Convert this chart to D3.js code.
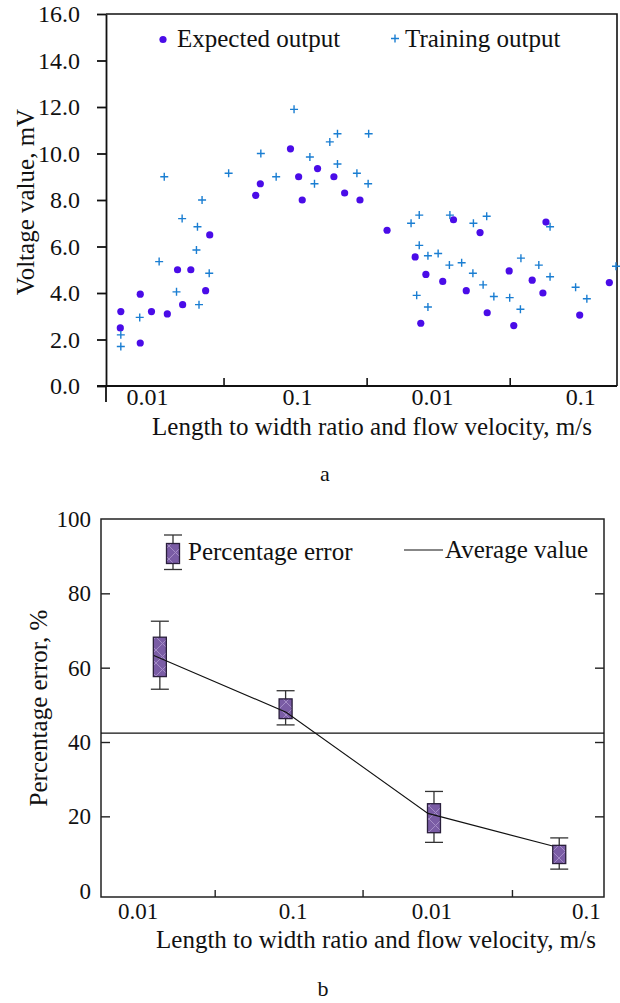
<!DOCTYPE html>
<meta http-equiv="Content-type" content="text/html; charset=UTF-8"/>
<style>
body { margin: 0; background: #fff; }
text { font-family: 'Liberation Serif', 'Times New Roman', serif; fill: #111; }
</style>
<svg width="620" height="1003"></svg>
<script src="https://d3js.org/d3.v7.min.js"></script>
<script>
// ---- chart a: expected vs training voltage ----
// x is the position along the split log axis (0..10 across the frame)
var expectedX = [0.29, 0.28, 0.67, 0.67, 0.89, 1.20, 1.40, 1.50, 1.66, 1.95, 2.03,
                 2.93, 3.02, 3.61, 3.77, 3.84, 4.14, 4.46, 4.67, 4.97,
                 5.50, 6.80, 7.32, 8.61, 6.05, 6.26, 6.59, 7.05, 7.89, 8.34, 8.55,
                 6.16, 7.46, 7.98, 9.27, 9.85];
var expectedY = [3.2, 2.5, 3.95, 1.85, 3.2, 3.1, 5.0, 3.5, 5.0, 4.1, 6.5,
                 8.2, 8.7, 10.2, 9.0, 8.0, 9.35, 9.0, 8.3, 8.0,
                 6.7, 7.15, 6.6, 7.05, 5.55, 4.8, 4.5, 4.1, 4.95, 4.55, 4.0,
                 2.7, 3.15, 2.6, 3.05, 4.45];
var trainingX = [0.29, 0.29, 0.66, 1.04, 1.38, 1.49, 1.77, 1.79, 1.82, 2.02,
                 1.14, 1.88, 2.40, 3.03, 3.33, 3.68, 3.99, 4.08, 4.38, 4.53, 4.53, 4.91, 5.14, 5.13,
                 5.97, 6.13, 6.73, 7.19, 7.45, 8.69, 6.13, 6.30, 6.50, 6.72, 6.96, 7.18,
                 7.38, 7.59, 7.90, 8.11, 8.12, 8.47, 8.69, 9.19, 9.41, 9.98, 6.08, 6.30];
var trainingY = [2.2, 1.7, 2.95, 5.35, 4.05, 7.2, 5.85, 6.85, 3.5, 4.85,
                 9.0, 8.0, 9.15, 10.0, 9.0, 11.9, 9.85, 8.7, 10.5, 10.85, 9.55, 9.15, 10.85, 8.7,
                 7.0, 7.35, 7.35, 7.0, 7.3, 6.85, 6.05, 5.6, 5.7, 5.2, 5.3, 4.85,
                 4.35, 3.85, 3.8, 3.3, 5.5, 5.2, 4.7, 4.25, 3.75, 5.15, 3.9, 3.4];
var voltTicks = [0, 2, 4, 6, 8, 10, 12, 14, 16];
var xTickLabels = ["0.01", "0.1", "0.01", "0.1"];
var topLabelPos = [0.80, 3.74, 6.38, 9.28];
var topMinorTicks = [2.31, 5.11, 7.91];

// ---- chart b: percentage error ----
var boxX = [1.17, 3.67, 6.62, 9.11];
var boxMin = [54.2, 44.6, 13.0, 5.8];
var boxQ1 = [57.6, 46.3, 15.6, 7.3];
var boxQ3 = [68.2, 51.6, 23.4, 12.2];
var boxMax = [72.5, 53.8, 26.7, 14.2];
var meanX = [1.05, 3.68, 6.50, 8.98];
var meanY = [63.3, 48.0, 20.8, 12.0];
var averageValue = 42.4;
var errTicks = [0, 20, 40, 60, 80, 100];
var botLabelPos = [0.73, 3.81, 6.57, 9.64];
var botMinorTicks = [2.27, 5.21, 8.18];

var svg = d3.select("svg");
var dotColor = "#4a0ce8", crossColor = "#1a7ed2";

// ================= chart a =================
var x1 = d3.scaleLinear().domain([0, 10]).range([106, 617]);
var y1 = d3.scaleLinear().domain([0, 16]).range([386, 14]);

var a = svg.append("g");

// frame: top and right
a.append("path")
    .attr("d", "M" + x1(0) + "," + y1(16) + "H" + x1(10) + "V" + y1(0))
    .attr("fill", "none").attr("stroke", "#111").attr("stroke-width", 1.6);

var ya = a.append("g")
    .attr("transform", "translate(" + x1(0) + ",0)")
    .call(d3.axisLeft(y1).tickValues(voltTicks).tickFormat(d3.format(".1f"))
      .tickSize(9).tickSizeOuter(0).tickPadding(17));
ya.selectAll("text").style("font-size", "24px");
ya.selectAll("line,path").attr("stroke", "#111").attr("stroke-width", 1.8);
// left axis runs a little below the baseline
a.append("line").attr("x1", x1(0)).attr("x2", x1(0)).attr("y1", y1(0)).attr("y2", y1(0) + 16)
    .attr("stroke", "#111").attr("stroke-width", 1.8);

var xa = a.append("g")
    .attr("transform", "translate(0," + y1(0) + ")")
    .call(d3.axisBottom(x1).tickValues(topLabelPos).tickFormat(function(d, i) { return xTickLabels[i]; })
      .tickSize(0).tickSizeOuter(0).tickPadding(2));
xa.selectAll("text").style("font-size", "24px");
xa.select(".domain").remove();
a.append("line").attr("x1", x1(0) - 9).attr("x2", x1(10)).attr("y1", y1(0)).attr("y2", y1(0))
    .attr("stroke", "#111").attr("stroke-width", 1.8);
a.selectAll(".minor").data(topMinorTicks).enter().append("line")
    .attr("x1", function(d) { return x1(d); }).attr("x2", function(d) { return x1(d); })
    .attr("y1", y1(0)).attr("y2", y1(0) - 8)
    .attr("stroke", "#111").attr("stroke-width", 1.6);

a.selectAll(".dot").data(expectedX).enter().append("circle")
    .attr("cx", function(d) { return x1(d); })
    .attr("cy", function(d, i) { return y1(expectedY[i]); })
    .attr("r", 3.6).attr("fill", dotColor);

function plus(g, cx, cy) {
  g.append("path")
    .attr("d", "M" + (cx - 4) + "," + cy + "H" + (cx + 4) + "M" + cx + "," + (cy - 4) + "V" + (cy + 4))
    .attr("stroke", crossColor).attr("stroke-width", 1.4).attr("fill", "none");
}
trainingX.forEach(function(d, i) { plus(a, x1(d), y1(trainingY[i])); });

// legend
a.append("circle").attr("cx", 163).attr("cy", 39.5).attr("r", 3.6).attr("fill", dotColor);
a.append("text").attr("x", 177).attr("y", 47).style("font-size", "25px").text("Expected output");
plus(a, 395, 38.5);
a.append("text").attr("x", 405).attr("y", 47).style("font-size", "25px").text("Training output");

a.append("text").attr("transform", "translate(34,202) rotate(-90)")
    .attr("text-anchor", "middle").style("font-size", "25px").text("Voltage value, mV");
a.append("text").attr("x", 372).attr("y", 435).attr("text-anchor", "middle")
    .style("font-size", "25px").text("Length to width ratio and flow velocity, m/s");
a.append("text").attr("x", 325).attr("y", 481).attr("text-anchor", "middle")
    .style("font-size", "22px").text("a");

// ================= chart b =================
var x2 = d3.scaleLinear().domain([0, 10]).range([101, 604]);
var y2 = d3.scaleLinear().domain([-1.7, 100]).range([897, 519]);

var b = svg.append("g");

var defs = svg.append("defs");
var pat = defs.append("pattern").attr("id", "hatch").attr("patternUnits", "userSpaceOnUse")
    .attr("width", 13).attr("height", 13);
pat.append("rect").attr("width", 13).attr("height", 13).attr("fill", "#7a5ca5");
pat.append("path").attr("d", "M0,0L13,13M13,0L0,13")
    .attr("stroke", "#a48cc6").attr("stroke-width", 1);

b.append("path")
    .attr("d", "M" + x2(0) + "," + y2(100) + "H" + x2(10) + "V" + y2(-1.7) + "H" + x2(0) + "Z")
    .attr("fill", "none").attr("stroke", "#222").attr("stroke-width", 1.5);

var yb = b.append("g")
    .attr("transform", "translate(" + x2(0) + ",0)")
    .call(d3.axisLeft(y2).tickValues(errTicks).tickSize(-9).tickSizeOuter(0).tickPadding(10));
yb.selectAll("text").style("font-size", "23px");
yb.select(".domain").remove();
yb.selectAll(".tick line").attr("stroke", "#222").attr("stroke-width", 1.4)
    .filter(function(d) { return d === 0 || d === 100; }).remove();

var yr = b.append("g")
    .attr("transform", "translate(" + x2(10) + ",0)")
    .call(d3.axisRight(y2).tickValues([20, 40, 60, 80]).tickSize(-9).tickSizeOuter(0).tickFormat(""));
yr.select(".domain").remove();
yr.selectAll(".tick line").attr("stroke", "#222").attr("stroke-width", 1.4);

var xb = b.append("g")
    .attr("transform", "translate(0," + y2(-1.7) + ")")
    .call(d3.axisBottom(x2).tickValues(botLabelPos).tickFormat(function(d, i) { return xTickLabels[i]; })
      .tickSize(0).tickSizeOuter(0).tickPadding(6));
xb.selectAll("text").style("font-size", "23px");
xb.select(".domain").remove();
b.selectAll(".minor").data(botMinorTicks).enter().append("line")
    .attr("x1", function(d) { return x2(d); }).attr("x2", function(d) { return x2(d); })
    .attr("y1", y2(-1.7)).attr("y2", y2(-1.7) - 7)
    .attr("stroke", "#222").attr("stroke-width", 1.4);

// average value line
b.append("line").attr("x1", x2(0)).attr("x2", x2(10))
    .attr("y1", y2(averageValue)).attr("y2", y2(averageValue))
    .attr("stroke", "#111").attr("stroke-width", 1.3);

function boxGlyph(g, cx, yMax, yQ3, yQ1, yMin) {
  g.append("line").attr("x1", cx).attr("x2", cx).attr("y1", yMax).attr("y2", yMin)
      .attr("stroke", "#333").attr("stroke-width", 1.3);
  [yMax, yMin].forEach(function(yy) {
    g.append("line").attr("x1", cx - 9).attr("x2", cx + 9).attr("y1", yy).attr("y2", yy)
        .attr("stroke", "#333").attr("stroke-width", 1.3);
  });
  g.append("rect").attr("x", cx - 6.5).attr("width", 13)
      .attr("y", yQ3).attr("height", yQ1 - yQ3)
      .attr("fill", "url(#hatch)").attr("stroke", "#2a1f3b").attr("stroke-width", 1.3);
}
boxX.forEach(function(d, i) {
  boxGlyph(b, x2(d), y2(boxMax[i]), y2(boxQ3[i]), y2(boxQ1[i]), y2(boxMin[i]));
});

b.append("path")
    .datum(meanX)
    .attr("fill", "none").attr("stroke", "#111").attr("stroke-width", 1.1)
    .attr("d", d3.line().x(function(d) { return x2(d); }).y(function(d, i) { return y2(meanY[i]); }));

// legend
boxGlyph(b, 173, 535, 543.5, 563.5, 569.5);
b.append("text").attr("x", 188).attr("y", 560).style("font-size", "25px").text("Percentage error");
b.append("line").attr("x1", 404).attr("x2", 443).attr("y1", 550).attr("y2", 550)
    .attr("stroke", "#111").attr("stroke-width", 1.2);
b.append("text").attr("x", 445).attr("y", 558).style("font-size", "25px").text("Average value");

b.append("text").attr("transform", "translate(47,708) rotate(-90)")
    .attr("text-anchor", "middle").style("font-size", "25px").text("Percentage error, %");
b.append("text").attr("x", 376).attr("y", 948).attr("text-anchor", "middle")
    .style("font-size", "25px").text("Length to width ratio and flow velocity, m/s");
b.append("text").attr("x", 323).attr("y", 996).attr("text-anchor", "middle")
    .style("font-size", "22px").text("b");
</script>
